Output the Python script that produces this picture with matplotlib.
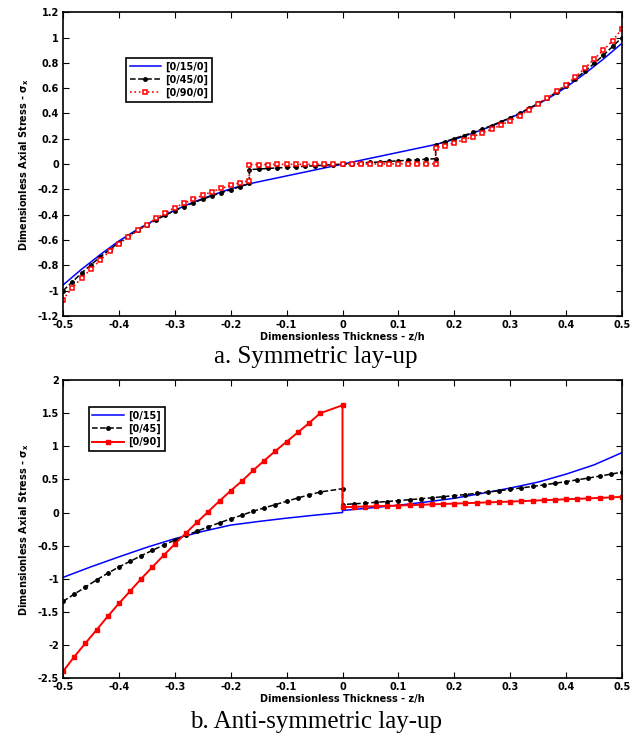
import numpy as np
import matplotlib
matplotlib.use("Agg")
import matplotlib.pyplot as plt

plt.rcParams['font.family'] = ['DejaVu Sans']
plt.rcParams['mathtext.fontset'] = 'dejavusans'

# ---- symmetric lay-up (a) ----
# three plies, 21 points per ply for the marked curves
z_ply1 = np.linspace(-0.5, -1/6, 21)
z_ply2 = np.linspace(-1/6, 1/6, 21)
z_ply3 = np.linspace(1/6, 0.5, 21)
z_sym = np.concatenate([z_ply1, z_ply2, z_ply3])

s45_sym = [-1.00, -0.93, -0.86, -0.795, -0.733, -0.675, -0.62, -0.57, -0.523, -0.48, -0.44,
           -0.402, -0.367, -0.335, -0.305, -0.277, -0.25, -0.226, -0.202, -0.178, -0.153,
           -0.043, -0.039, -0.034, -0.030, -0.026, -0.021, -0.017, -0.013, -0.009, -0.004, 0.0,
           0.004, 0.009, 0.013, 0.017, 0.021, 0.026, 0.030, 0.034, 0.039, 0.043,
           0.153, 0.178, 0.202, 0.226, 0.25, 0.277, 0.305, 0.335, 0.367, 0.402, 0.44,
           0.48, 0.523, 0.57, 0.62, 0.675, 0.733, 0.795, 0.86, 0.93, 1.00]

s90_sym = [-1.07, -0.976, -0.90, -0.83, -0.757, -0.688, -0.628, -0.577, -0.524, -0.478, -0.428,
           -0.384, -0.343, -0.309, -0.277, -0.246, -0.217, -0.192, -0.167, -0.147, -0.13,
           -0.003, -0.003, -0.003, -0.002, -0.002, -0.002, -0.002, -0.001, -0.001, -0.001, 0.0,
           0.001, 0.001, 0.001, 0.002, 0.002, 0.002, 0.002, 0.003, 0.003, 0.003,
           0.13, 0.147, 0.167, 0.192, 0.217, 0.246, 0.277, 0.309, 0.343, 0.384, 0.428,
           0.478, 0.524, 0.577, 0.628, 0.688, 0.757, 0.83, 0.90, 0.976, 1.07]

z15_sym = np.concatenate([np.linspace(-0.5, -1/6, 11), np.linspace(-1/6, 1/6, 11)[1:],
                          np.linspace(1/6, 0.5, 11)[1:]])
s15_sym = [-0.955, -0.83, -0.715, -0.607, -0.515, -0.435, -0.364, -0.30, -0.245, -0.195, -0.155,
           -0.124, -0.093, -0.062, -0.031, 0.0, 0.031, 0.062, 0.093, 0.124, 0.155,
           0.195, 0.245, 0.30, 0.364, 0.435, 0.515, 0.607, 0.715, 0.83, 0.955]

# ---- anti-symmetric lay-up (b) ----
z_low = [-0.5, -0.48, -0.46, -0.44, -0.42, -0.40, -0.38, -0.36, -0.34, -0.32, -0.30, -0.28,
         -0.26, -0.24, -0.22, -0.20, -0.18, -0.16, -0.14, -0.12, -0.10, -0.08, -0.06, -0.04, 0.0]
z_up = np.linspace(0, 0.5, 26)
z_anti = np.concatenate([z_low, z_up])

s90_anti = [-2.40, -2.18, -1.975, -1.774, -1.569, -1.373, -1.188, -1.0, -0.822, -0.647, -0.476,
            -0.31, -0.145, 0.015, 0.175, 0.33, 0.475, 0.635, 0.785, 0.93, 1.07, 1.21, 1.35, 1.50, 1.62,
            0.08, 0.085, 0.09, 0.095, 0.10, 0.105, 0.111, 0.117, 0.123, 0.129, 0.135, 0.141, 0.147,
            0.153, 0.159, 0.165, 0.172, 0.179, 0.186, 0.193, 0.20, 0.207, 0.214, 0.221, 0.228, 0.236]

s45_anti = [-1.343, -1.233, -1.128, -1.018, -0.917, -0.822, -0.737, -0.652, -0.571, -0.491, -0.416,
            -0.346, -0.281, -0.216, -0.155, -0.095, -0.04, 0.02, 0.07, 0.12, 0.17, 0.22, 0.266, 0.31, 0.36,
            0.12, 0.131, 0.142, 0.154, 0.166, 0.18, 0.194, 0.208, 0.223, 0.239, 0.255, 0.272, 0.29,
            0.309, 0.329, 0.35, 0.372, 0.394, 0.417, 0.442, 0.467, 0.494, 0.521, 0.55, 0.58, 0.61]

z15_anti = [-0.5, -0.45, -0.4, -0.35, -0.3, -0.25, -0.2, -0.15, -0.1, -0.05, 0.0,
            0.0, 0.05, 0.1, 0.15, 0.2, 0.25, 0.3, 0.35, 0.4, 0.45, 0.5]
s15_anti = [-0.98, -0.82, -0.67, -0.525, -0.395, -0.285, -0.19, -0.135, -0.085, -0.04, 0.0,
            0.03, 0.07, 0.11, 0.16, 0.215, 0.29, 0.37, 0.46, 0.58, 0.72, 0.905]

xticks = [-0.5, -0.4, -0.3, -0.2, -0.1, 0, 0.1, 0.2, 0.3, 0.4, 0.5]
xticklabels = ['-0.5', '-0.4', '-0.3', '-0.2', '-0.1', '0', '0.1', '0.2', '0.3', '0.4', '0.5']
yticks_sym = [-1.2, -1, -0.8, -0.6, -0.4, -0.2, 0, 0.2, 0.4, 0.6, 0.8, 1, 1.2]
yticklabels_sym = ['-1.2', '-1', '-0.8', '-0.6', '-0.4', '-0.2', '0', '0.2', '0.4', '0.6', '0.8', '1', '1.2']
yticks_anti = [-2.5, -2, -1.5, -1, -0.5, 0, 0.5, 1, 1.5, 2]
yticklabels_anti = ['-2.5', '-2', '-1.5', '-1', '-0.5', '0', '0.5', '1', '1.5', '2']

fig = plt.figure(figsize=(6.32, 7.41), dpi=100)
ax1 = fig.add_axes([0.0997, 0.5735, 0.8845, 0.410])
ax2 = fig.add_axes([0.0997, 0.085, 0.8845, 0.402])


def style_axes(ax, yticks, yticklabels, ylim):
    ax.set_xlim(-0.5, 0.5)
    ax.set_ylim(*ylim)
    ax.set_xticks(xticks)
    ax.set_xticklabels(xticklabels)
    ax.set_yticks(yticks)
    ax.set_yticklabels(yticklabels)
    ax.tick_params(direction='in', top=True, right=True, length=4, width=0.8,
                   labelsize=7, pad=3)
    for lab in ax.get_xticklabels() + ax.get_yticklabels():
        lab.set_fontweight('bold')
    for sp in ax.spines.values():
        sp.set_linewidth(1.2)
    ax.set_xlabel('Dimensionless Thickness - z/h', fontsize=7, fontweight='bold', labelpad=1)
    ax.set_ylabel(r'Dimensionless Axial Stress - $\mathbf{\sigma_x}$', fontsize=7,
                  fontweight='bold', labelpad=5)


# (a)
ax1.plot(z15_sym, s15_sym, '-', color='#0000ff', lw=1.1, label='[0/15/0]')
ax1.plot(z_sym, s45_sym, '--', color='black', lw=1.1, marker='.', ms=5, label='[0/45/0]')
ax1.plot(z_sym, s90_sym, ':', color='#ff0000', lw=1.2, marker='s', ms=3.5, mfc='white',
         mec='#ff0000', mew=1.1, label='[0/90/0]')
style_axes(ax1, yticks_sym, yticklabels_sym, (-1.2, 1.2))
leg1 = ax1.legend(loc='upper left', bbox_to_anchor=(0.113, 0.849), fancybox=False,
                  edgecolor='black', framealpha=1, prop={'size': 7, 'weight': 'bold'},
                  handlelength=3.2, borderpad=0.35, labelspacing=0.3, handletextpad=0.5,
                  borderaxespad=0)
leg1.get_frame().set_linewidth(1.2)

# (b)
ax2.plot(z15_anti, s15_anti, '-', color='#0000ff', lw=1.1, label='[0/15]')
ax2.plot(z_anti, s45_anti, '--', color='black', lw=1.1, marker='.', ms=5, label='[0/45]')
ax2.plot(z_anti, s90_anti, '-', color='#ff0000', lw=1.4, marker='s', ms=3.5, label='[0/90]')
style_axes(ax2, yticks_anti, yticklabels_anti, (-2.5, 2))
leg2 = ax2.legend(loc='upper left', bbox_to_anchor=(0.0465, 0.909), fancybox=False,
                  edgecolor='black', framealpha=1, prop={'size': 7, 'weight': 'bold'},
                  handlelength=3.2, borderpad=0.35, labelspacing=0.3, handletextpad=0.5,
                  borderaxespad=0)
leg2.get_frame().set_linewidth(1.2)

fig.text(0.5, 1 - 357 / 741, 'a. Symmetric lay-up', ha='center', va='center',
         family='Liberation Serif', fontsize=18)
fig.text(0.5, 1 - 722 / 741, 'b. Anti-symmetric lay-up', ha='center', va='center',
         family='Liberation Serif', fontsize=18)

fig.savefig('out.png', dpi=100)
